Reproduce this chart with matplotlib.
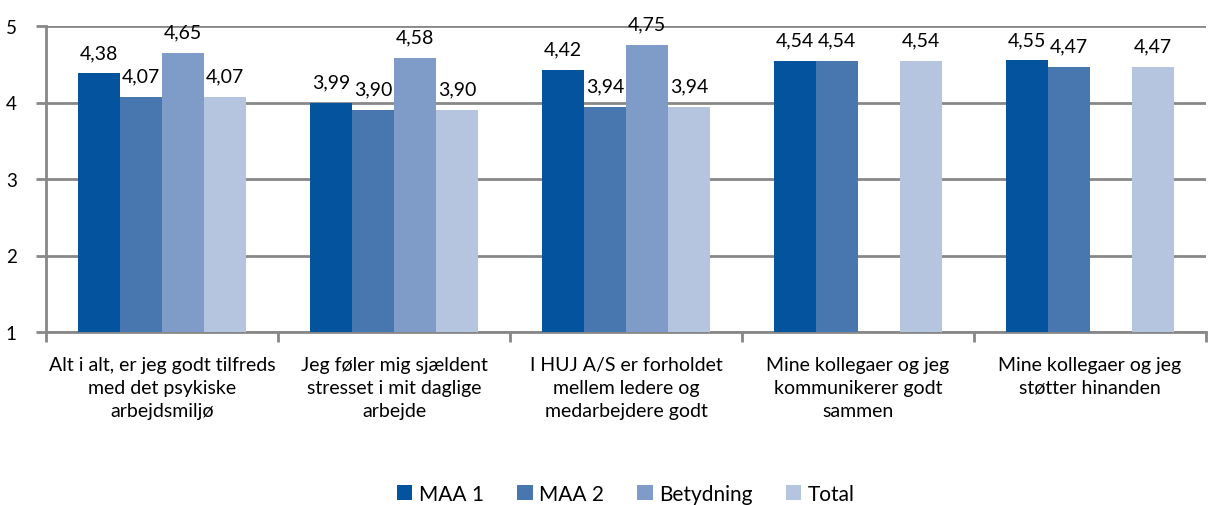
import matplotlib
matplotlib.use("Agg")
import matplotlib.pyplot as plt
import numpy as np

categories = [
    "Alt i alt, er jeg godt tilfreds\nmed det psykiske\narbejdsmiljø",
    "Jeg føler mig sjældent\nstresset i mit daglige\narbejde",
    "I HUJ A/S er forholdet\nmellem ledere og\nmedarbejdere godt",
    "Mine kollegaer og jeg\nkommunikerer godt\nsammen",
    "Mine kollegaer og jeg\nstøtter hinanden",
]
series_names = ["MAA 1", "MAA 2", "Betydning", "Total"]
maa1 = [4.38, 3.99, 4.42, 4.54, 4.55]
maa2 = [4.07, 3.90, 3.94, 4.54, 4.47]
betydning = [4.65, 4.58, 4.75, None, None]
total = [4.07, 3.90, 3.94, 4.54, 4.47]
colors = ["#03539F", "#4877AF", "#7F9CC8", "#B5C4DF"]

plt.rcParams['font.family'] = ['Lato', 'DejaVu Sans']

fig = plt.figure(figsize=(12.08, 5.06), dpi=100)
ax = fig.add_axes([46/1208, 1-333/506, 1160/1208, 306/506])

n = len(categories)
x = np.arange(n)
bw = 0.181
offsets = np.array([-1.5, -0.5, 0.5, 1.5]) * bw
for s, (vals, name, col) in enumerate(zip([maa1, maa2, betydning, total], series_names, colors)):
    xs = [xi + offsets[s] for xi, v in zip(x, vals) if v is not None]
    vs = [v for v in vals if v is not None]
    ax.bar(xs, [v - 1 for v in vs], bottom=1, width=bw, color=col, label=name, zorder=3)
    for xi, v in zip(xs, vs):
        ax.annotate(f"{v:.2f}".replace(".", ","), (xi, v), xytext=(0, 9),
                    textcoords="offset points", ha="center", va="bottom", fontsize=14, color="#000000")

ax.set_xlim(-0.5, n - 0.5)
ax.set_ylim(1, 5)
ax.set_yticks([1, 2, 3, 4, 5])
ax.set_yticklabels(["1", "2", "3", "4", "5"], fontsize=13.5)
ax.yaxis.grid(True, color="#888888", linewidth=2, zorder=0)
ax.set_axisbelow(True)
ax.set_xticks(x)
ax.set_xticklabels(categories, fontsize=14, linespacing=1.45)
ax.tick_params(axis='x', length=0, pad=17)
ax.set_xticks(np.arange(n + 1) - 0.5, minor=True)
ax.tick_params(axis='x', which='minor', length=7, width=2, color="#888888")
ax.tick_params(axis='y', length=7, width=2, color="#888888", pad=14)
for sp in ["top", "right"]:
    ax.spines[sp].set_visible(False)
for sp in ["left", "bottom"]:
    ax.spines[sp].set_color("#888888")
    ax.spines[sp].set_linewidth(2)

fig.legend(loc="lower center", bbox_to_anchor=(0.518, -0.035), ncol=4, frameon=False,
           fontsize=15, handlelength=0.75, handleheight=0.75, handletextpad=0.3,
           columnspacing=1.6)
fig.savefig("out.png", dpi=100)
